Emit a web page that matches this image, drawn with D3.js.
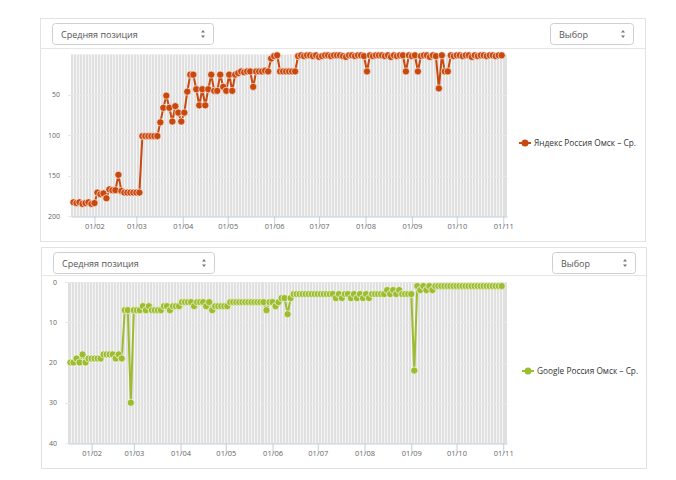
<!DOCTYPE html>
<html>
<head>
<meta charset="utf-8">
<script src="https://cdn.jsdelivr.net/npm/d3@7"></script>
<style>
body { margin: 0; background: #fff; }
text { font-family: "Open Sans", sans-serif; }
</style>
</head>
<body>
<div id="chart"></div>
<script>
// one value every 2 days, starting 18 Jan
var firstDay = new Date(2017, 0, 18);
var stepDays = 2;

var yandexValues = [
  183,184,183,185,184,183,185,184,
  171,173,172,178,167,168,168,149,169,171,171,171,171,171,171,
  101,101,101,101,101,101,
  84,66,51,66,83,64,72,83,72,
  46,25,25,43,63,43,63,43,25,45,45,25,40,45,25,45,25,
  23,21,22,21,21,40,21,21,21,20,21,5,2,1,
  21,21,21,21,21,21,
  2,
  1,2,1,1,2,1,3,2,1,1,2,1,1,1,2,3,1,1,2,1,1,2,
  21,
  1,2,1,1,1,2,1,3,1,2,1,1,
  21,
  1,2,1,
  21,
  2,1,1,3,1,2,
  42,
  1,
  21,21,
  1,2,1,1,2,1,1,3,1,2,1,1,2,1,1,2,1,1
];

var googleValues = [
  20,20,19,20,18,20,19,19,19,19,19,18,18,18,18,19,18,19,
  7,7,30,7,
  7,7,6,7,6,7,7,7,7,6,6,7,6,6,6,
  5,5,5,5,6,5,5,5,6,5,7,6,6,6,6,6,5,5,
  5,5,5,5,5,5,5,5,5,5,
  7,5,5,6,5,4,4,8,4,3,3,
  3,3,3,3,3,3,3,3,3,3,3,3,
  4,3,4,3,3,4,3,4,3,4,3,4,3,3,3,3,3,
  2,3,2,3,2,3,3,3,3,
  22,
  1,2,1,2,1,2,1,
  1,1,1,1,1,1,1,1,1,1,1,1,1,1,1,1,1,1,1,1,1,1
];

var yandexTicks = [50, 100, 150, 200];
var googleTicks = [0, 10, 20, 30, 40];
var seriesNames = ["Яндекс Россия Омск – Ср.", "Google Россия Омск – Ср."];
var metricLabel = "Средняя позиция";
var pickLabel = "Выбор";

var svg = d3.select("#chart").append("svg")
  .attr("width", 676)
  .attr("height", 480);

var xDomain = [new Date(2017, 0, 16, 8), new Date(2017, 10, 3, 12)];

function drawSelect(x, y, w, label) {
  svg.append("rect")
    .attr("x", x + 0.5).attr("y", y + 0.5)
    .attr("width", w).attr("height", 21)
    .attr("rx", 3)
    .attr("fill", "#fff")
    .attr("stroke", "#cfcfcf");
  svg.append("text")
    .attr("x", x + 9).attr("y", y + 14.5)
    .attr("font-size", "9px")
    .attr("fill", "#555")
    .text(label);
  var ax = x + w - 10, ay = y + 11;
  svg.append("path")
    .attr("d", "M" + (ax - 2) + "," + (ay - 1.5) + "L" + ax + "," + (ay - 4) + "L" + (ax + 2) + "," + (ay - 1.5) + "Z" +
               "M" + (ax - 2) + "," + (ay + 1.5) + "L" + ax + "," + (ay + 4) + "L" + (ax + 2) + "," + (ay + 1.5) + "Z")
    .attr("fill", "#777");
}

function drawPanel(cfg) {
  // card
  svg.append("rect")
    .attr("x", cfg.card[0] + 0.5).attr("y", cfg.card[1] + 0.5)
    .attr("width", cfg.card[2]).attr("height", cfg.card[3])
    .attr("fill", "#fff")
    .attr("stroke", "#e2e2e2");
  svg.append("line")
    .attr("x1", cfg.card[0]).attr("x2", cfg.card[0] + cfg.card[2])
    .attr("y1", cfg.sepY + 0.5).attr("y2", cfg.sepY + 0.5)
    .attr("stroke", "#e6e6e6");
  drawSelect(cfg.card[0] + 12, cfg.card[1] + 5, 161, metricLabel);
  drawSelect(cfg.pickX, cfg.card[1] + 5, 83, pickLabel);

  var x = d3.scaleTime().domain(xDomain).range([cfg.left, cfg.right]);
  var y = d3.scaleLinear().domain(cfg.yDomain).range([cfg.top, cfg.bottom]);

  var data = cfg.values.map(function(v, i) {
    return { date: d3.timeDay.offset(firstDay, i * stepDays), value: v };
  });

  var g = svg.append("g");

  // striped background
  g.append("rect")
    .attr("x", cfg.left).attr("y", cfg.top)
    .attr("width", cfg.right - cfg.left).attr("height", cfg.bottom - cfg.top)
    .attr("fill", "#e0e0e0");
  g.selectAll("line.stripe")
    .data(data)
    .enter().append("line")
    .attr("class", "stripe")
    .attr("x1", function(d) { return Math.round(x(d.date)) + 0.5; })
    .attr("x2", function(d) { return Math.round(x(d.date)) + 0.5; })
    .attr("y1", cfg.top).attr("y2", cfg.bottom)
    .attr("stroke", "#f6f6f6")
    .attr("stroke-width", 1);

  // horizontal grid
  g.selectAll("line.grid")
    .data(cfg.ticks)
    .enter().append("line")
    .attr("class", "grid")
    .attr("x1", cfg.left - 3).attr("x2", cfg.right)
    .attr("y1", function(d) { return Math.round(y(d)) + 0.5; })
    .attr("y2", function(d) { return Math.round(y(d)) + 0.5; })
    .attr("stroke", "#e8e8e8");

  // y labels
  g.selectAll("text.ylab")
    .data(cfg.ticks)
    .enter().append("text")
    .attr("class", "ylab")
    .attr("x", cfg.left - 11)
    .attr("y", function(d) { return y(d) + 2.5; })
    .attr("text-anchor", "end")
    .attr("font-size", "7px")
    .attr("fill", "#666")
    .text(function(d) { return d; });

  // x axis
  var xAxis = d3.axisBottom(x)
    .ticks(d3.timeMonth.every(1))
    .tickFormat(d3.timeFormat("%d/%m"))
    .tickSize(10)
    .tickSizeOuter(0);
  var axisG = g.append("g")
    .attr("transform", "translate(0," + (cfg.bottom + 0.5) + ")")
    .call(xAxis);
  axisG.select(".domain").attr("stroke", "#c0d0e0");
  axisG.selectAll(".tick line").attr("stroke", "#c0d0e0");
  axisG.selectAll(".tick text")
    .attr("y", 10)
    .attr("dy", "0.3em")
    .attr("font-family", "Open Sans, sans-serif")
    .attr("font-size", "7.5px")
    .attr("fill", "#666");

  // series line
  var line = d3.line()
    .x(function(d) { return x(d.date); })
    .y(function(d) { return y(d.value); });
  g.append("path")
    .datum(data)
    .attr("d", line)
    .attr("fill", "none")
    .attr("stroke", cfg.color)
    .attr("stroke-width", 2);

  g.selectAll("circle.pt")
    .data(data)
    .enter().append("circle")
    .attr("class", "pt")
    .attr("cx", function(d) { return x(d.date); })
    .attr("cy", function(d) { return y(d.value); })
    .attr("r", 3.6)
    .attr("fill", cfg.color)
    .attr("stroke", "#fff")
    .attr("stroke-opacity", 0.7)
    .attr("stroke-width", 0.9);

  // legend
  var lg = svg.append("g").attr("transform", "translate(" + cfg.legend[0] + "," + cfg.legend[1] + ")");
  lg.append("line").attr("x1", 0).attr("x2", 12).attr("y1", 0).attr("y2", 0)
    .attr("stroke", cfg.color).attr("stroke-width", 2);
  lg.append("circle").attr("cx", 6).attr("cy", 0).attr("r", 3.5).attr("fill", cfg.color);
  lg.append("text").attr("x", 15).attr("y", 3)
    .attr("font-size", "8.3px")
    .attr("fill", "#333")
    .text(cfg.name);
}

drawPanel({
  card: [40, 18, 605, 223], sepY: 48, pickX: 550,
  left: 71, right: 507, top: 54.5, bottom: 216,
  yDomain: [0, 200], ticks: yandexTicks,
  values: yandexValues, color: "#c9480e",
  name: seriesNames[0], legend: [519, 143]
});

drawPanel({
  card: [41, 247, 605, 221], sepY: 275, pickX: 552,
  left: 68, right: 507, top: 282, bottom: 443,
  yDomain: [0, 40], ticks: googleTicks,
  values: googleValues, color: "#9dbc2f",
  name: seriesNames[1], legend: [522, 371]
});
</script>
</body>
</html>
